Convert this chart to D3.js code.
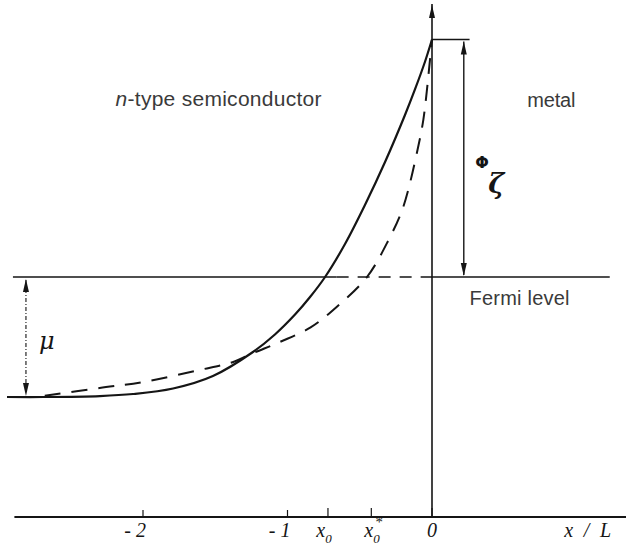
<!DOCTYPE html>
<html>
<head>
<meta charset="utf-8">
<script src="https://cdn.jsdelivr.net/npm/d3@7/dist/d3.min.js"></script>
<style>
  html, body { margin: 0; padding: 0; background: #ffffff; }
  svg { display: block; }
</style>
</head>
<body>
<svg id="chart" width="626" height="549"></svg>
<script>
// ---- data (x in units of L, energy E relative to the Fermi level, in units of mu) ----
const solidX = [-2.941, -2.692, -2.298, -2.069, -1.792, -1.516, -1.239, -1.087, -0.948, -0.844, -0.740, -0.602, -0.464, -0.325, -0.187, -0.118, -0.048, 0];
const solidE = [-1.0, -1.0, -0.992, -0.975, -0.929, -0.825, -0.625, -0.479, -0.313, -0.167, 0, 0.275, 0.60, 0.958, 1.35, 1.563, 1.796, 1.979];

const dashedX = [-2.68, -2.30, -2.00, -1.61, -1.38, -1.24, -1.05, -0.84, -0.66, -0.45, -0.30, -0.20, -0.10, -0.06, -0.035, -0.014, 0];
const dashedE = [-0.99, -0.925, -0.875, -0.775, -0.71, -0.635, -0.54, -0.42, -0.25, 0, 0.31, 0.58, 1.06, 1.31, 1.56, 1.81, 1.979];

const tickValues = [-2, -1, -0.72, -0.42, 0];
const tickLabels = ["-2", "-1", "x0", "x0*", "0"];

const fermiLevel = 0;       // Fermi level
const bandBottom = -1;      // -mu
const barrierTop = 1.979;   // zeta_Phi above Fermi level
const axisLevel = -2;       // where the x axis sits

// ---- scales ----
const svg = d3.select("#chart");
const x = d3.scaleLinear().domain([-2, 0]).range([143, 432]);
const y = d3.scaleLinear().domain([-2, 0]).range([517, 277]);

const ink = "#151515";
const textCol = "#3a3a3a";

// ---- x axis ----
svg.append("line")
  .attr("x1", x(-2.89)).attr("x2", 626)
  .attr("y1", y(axisLevel)).attr("y2", y(axisLevel))
  .attr("stroke", ink).attr("stroke-width", 2);

svg.selectAll("line.tick").data(tickValues).enter().append("line")
  .attr("class", "tick")
  .attr("x1", d => x(d)).attr("x2", d => x(d))
  .attr("y1", y(axisLevel)).attr("y2", (d, i) => y(axisLevel) - (i < 2 ? 7 : 9))
  .attr("stroke", ink).attr("stroke-width", 1.2);

const labelFont = "'Liberation Serif', 'DejaVu Serif', serif";
const lblY = y(axisLevel) + 20;
tickLabels.forEach((lab, i) => {
  const tx = x(tickValues[i]);
  const t = svg.append("text")
    .attr("y", lblY)
    .attr("font-family", labelFont)
    .attr("font-style", "italic")
    .attr("font-size", 20)
    .attr("fill", ink);
  if (lab === "x0") {
    t.attr("x", tx - 4).attr("text-anchor", "middle");
    t.append("tspan").text("x");
    t.append("tspan").attr("font-size", 13).attr("dy", 6).text("0");
  } else if (lab === "x0*") {
    t.attr("x", tx + 2).attr("text-anchor", "middle");
    t.append("tspan").text("x");
    t.append("tspan").attr("font-size", 13).attr("dy", 6).text("0");
    t.append("tspan").attr("font-size", 15).attr("dy", -16).attr("dx", -5).text("*");
  } else if (lab === "0") {
    t.attr("x", tx).attr("text-anchor", "middle").text(lab);
  } else {
    t.attr("x", tx + 3).attr("text-anchor", "end").text(lab.replace("-", "- "));
  }
});

svg.append("text")
  .attr("x", x(0.915)).attr("y", lblY)
  .attr("font-family", labelFont).attr("font-style", "italic")
  .attr("font-size", 20).attr("fill", ink)
  .attr("textLength", 47).attr("lengthAdjust", "spacing")
  .text("x / L");

// ---- arrowheads helper ----
function arrowHead(px, py, dir, len, half) {
  // dir: -1 pointing up, +1 pointing down
  const p = d3.path();
  p.moveTo(px, py);
  p.lineTo(px - half, py - dir * len);
  p.lineTo(px + half, py - dir * len);
  p.closePath();
  svg.append("path").attr("d", p.toString()).attr("fill", ink);
}

// ---- vertical line at x = 0 (interface) ----
svg.append("line")
  .attr("x1", x(0)).attr("x2", x(0))
  .attr("y1", y(axisLevel)).attr("y2", 4)
  .attr("stroke", ink).attr("stroke-width", 1.6);
arrowHead(x(0), 5, -1, 13, 3);

// ---- Fermi level ----
svg.append("line")
  .attr("x1", x(-2.9)).attr("x2", x(-0.66))
  .attr("y1", y(fermiLevel)).attr("y2", y(fermiLevel))
  .attr("stroke", ink).attr("stroke-width", 1.6);
svg.append("line")
  .attr("x1", x(-0.66)).attr("x2", x(0))
  .attr("y1", y(fermiLevel)).attr("y2", y(fermiLevel))
  .attr("stroke", ink).attr("stroke-width", 1.5)
  .attr("stroke-dasharray", "12,9");
svg.append("line")
  .attr("x1", x(0)).attr("x2", x(1.23))
  .attr("y1", y(fermiLevel)).attr("y2", y(fermiLevel))
  .attr("stroke", ink).attr("stroke-width", 1.6);

// ---- barrier top line and zeta_Phi arrow ----
svg.append("line")
  .attr("x1", x(0)).attr("x2", x(0.26))
  .attr("y1", y(barrierTop)).attr("y2", y(barrierTop))
  .attr("stroke", ink).attr("stroke-width", 1.6);
const phiX = x(0.22);
svg.append("line")
  .attr("x1", phiX).attr("x2", phiX)
  .attr("y1", y(barrierTop) + 2).attr("y2", y(fermiLevel) - 2)
  .attr("stroke", ink).attr("stroke-width", 1.4);
arrowHead(phiX, y(barrierTop) + 2, -1, 13, 3);
arrowHead(phiX, y(fermiLevel) - 1, 1, 13, 3);

// ---- mu arrow ----
const muX = x(-2.81);
svg.append("line")
  .attr("x1", muX).attr("x2", muX)
  .attr("y1", y(fermiLevel) + 3).attr("y2", y(bandBottom) - 3)
  .attr("stroke", ink).attr("stroke-width", 1.1)
  .attr("stroke-dasharray", "4,2,1,2");
arrowHead(muX, y(fermiLevel) + 2, -1, 13, 3);
arrowHead(muX, y(bandBottom) - 1, 1, 13, 3);

// ---- curves ----
const line = d3.line()
  .x(d => x(d[0])).y(d => y(d[1]))
  .curve(d3.curveCatmullRom.alpha(0.5));

svg.append("path")
  .datum(solidX.map((v, i) => [v, solidE[i]]))
  .attr("d", line)
  .attr("fill", "none").attr("stroke", ink).attr("stroke-width", 2.2);

svg.append("path")
  .datum(dashedX.map((v, i) => [v, dashedE[i]]))
  .attr("d", line)
  .attr("fill", "none").attr("stroke", ink).attr("stroke-width", 2)
  .attr("stroke-dasharray", "16,11");

// ---- text labels ----
const sans = "'Liberation Sans', Arial, Helvetica, sans-serif";
const t1 = svg.append("text")
  .attr("x", x(-2.19)).attr("y", 106)
  .attr("font-family", sans).attr("font-size", 21).attr("fill", textCol)
  .attr("textLength", 206).attr("lengthAdjust", "spacing");
t1.append("tspan").attr("font-style", "italic").text("n");
t1.append("tspan").text("-type semiconductor");

svg.append("text")
  .attr("x", x(0.66)).attr("y", 107)
  .attr("font-family", sans).attr("font-size", 20).attr("fill", textCol)
  .attr("textLength", 48).attr("lengthAdjust", "spacing")
  .text("metal");

svg.append("text")
  .attr("x", x(0.26)).attr("y", 305)
  .attr("font-family", sans).attr("font-size", 20).attr("fill", textCol)
  .attr("textLength", 100).attr("lengthAdjust", "spacing")
  .text("Fermi level");

svg.append("text")
  .attr("x", x(-2.72)).attr("y", 349)
  .attr("font-family", "'DejaVu Serif', serif").attr("font-style", "italic")
  .attr("font-size", 24).attr("fill", ink)
  .text("μ");

svg.append("text")
  .attr("x", x(0.30)).attr("y", 168)
  .attr("font-family", "'DejaVu Sans', sans-serif").attr("font-weight", "bold")
  .attr("font-size", 16).attr("fill", ink)
  .text("Φ");
svg.append("text")
  .attr("x", x(0.39)).attr("y", 193)
  .attr("font-family", "'DejaVu Serif', serif").attr("font-style", "italic")
  .attr("font-weight", "bold")
  .attr("font-size", 27).attr("fill", ink)
  .text("ζ");
</script>
</body>
</html>
